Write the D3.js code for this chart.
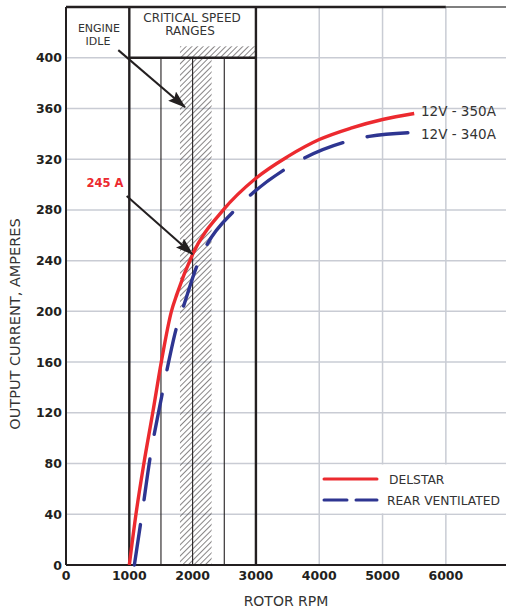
<!DOCTYPE html>
<html>
<head>
<meta charset="utf-8">
<script src="https://cdn.jsdelivr.net/npm/d3@7"></script>
<style>
  body { margin: 0; background: #fff; }
  svg { display: block; }
</style>
</head>
<body>
<div id="chart"></div>
<script>
'use strict';

// Delstar curve: [rpm, amps]
var delstarRpm = [1000, 1105, 1230, 1370, 1505, 1665, 1755, 2000, 2485, 3000, 3500, 4000, 4500, 5000, 5500];
var delstarAmps = [0, 40, 80, 120, 160, 200, 214, 245, 280, 305, 322, 335.5, 344.5, 351.3, 356];

// Rear ventilated curve: [rpm, amps]
var rearRpm = [1080, 1200, 1330, 1500, 1600, 1750, 1850, 2070, 2220, 2670, 2920, 3490, 3790, 4440, 4790, 5480];
var rearAmps = [0, 40, 85, 130, 155, 188, 203, 236, 252, 280, 292, 313, 321.5, 334, 338, 341];

var xTicks = [0, 1000, 2000, 3000, 4000, 5000, 6000];
var yTicks = [0, 40, 80, 120, 160, 200, 240, 280, 320, 360, 400];
var seriesNames = ['DELSTAR', 'REAR VENTILATED'];
var endLabels = ['12V - 350A', '12V - 340A'];

var width = 506,
  height = 611;

var svg = d3.select('#chart').append('svg')
  .attr('width', width)
  .attr('height', height);

var x = d3.scaleLinear().domain([0, 6950]).range([66, 506]);
var y = d3.scaleLinear().domain([0, 440]).range([565, 7]);

var red = '#ec2a2f',
  blue = '#2e3591',
  grid = '#c9ccd4',
  ink = '#231f20';

// Hatch pattern
var defs = svg.append('defs');
var pat = defs.append('pattern')
  .attr('id', 'hatch')
  .attr('patternUnits', 'userSpaceOnUse')
  .attr('width', 4)
  .attr('height', 4)
  .attr('patternTransform', 'rotate(45)');
pat.append('line')
  .attr('x1', 0).attr('y1', 0)
  .attr('x2', 0).attr('y2', 4)
  .style('stroke', ink)
  .style('stroke-width', 1.1);

defs.append('marker')
  .attr('id', 'arrow')
  .attr('markerUnits', 'userSpaceOnUse')
  .attr('viewBox', '0 0 18 12')
  .attr('refX', 17)
  .attr('refY', 6)
  .attr('markerWidth', 18)
  .attr('markerHeight', 12)
  .attr('orient', 'auto')
  .append('path')
  .attr('d', 'M0,0 L18,6 L0,12 L3,6 Z')
  .style('fill', ink);

// Gridlines
svg.append('g').selectAll('line').data(yTicks.slice(1))
  .enter().append('line')
  .attr('x1', x(0)).attr('x2', width)
  .attr('y1', function (d) { return y(d); })
  .attr('y2', function (d) { return y(d); })
  .style('stroke', grid)
  .style('stroke-width', 1.5);

svg.append('g').selectAll('line').data([4000, 5000, 6000])
  .enter().append('line')
  .attr('x1', function (d) { return x(d); })
  .attr('x2', function (d) { return x(d); })
  .attr('y1', y(440)).attr('y2', y(0))
  .style('stroke', grid)
  .style('stroke-width', 1.5);

// Hatched critical band
svg.append('rect')
  .attr('x', x(1800)).attr('y', y(400))
  .attr('width', x(2300) - x(1800))
  .attr('height', y(0) - y(400))
  .style('fill', 'url(#hatch)');
svg.append('rect')
  .attr('x', x(1800)).attr('y', y(409))
  .attr('width', x(3000) - x(1800))
  .attr('height', y(400) - y(409))
  .style('fill', 'url(#hatch)');

// Thin speed lines
svg.append('g').selectAll('line').data([1500, 2000, 2500])
  .enter().append('line')
  .attr('x1', function (d) { return x(d); })
  .attr('x2', function (d) { return x(d); })
  .attr('y1', y(400)).attr('y2', y(0))
  .style('stroke', ink)
  .style('stroke-width', 1.1);

// Thick frame lines
svg.append('g').selectAll('line').data([1000, 3000])
  .enter().append('line')
  .attr('x1', function (d) { return x(d); })
  .attr('x2', function (d) { return x(d); })
  .attr('y1', y(440)).attr('y2', y(0))
  .style('stroke', ink)
  .style('stroke-width', 2.4);

svg.append('line')
  .attr('x1', x(1000)).attr('x2', x(3000))
  .attr('y1', y(400)).attr('y2', y(400))
  .style('stroke', ink)
  .style('stroke-width', 2.4);

svg.append('line')
  .attr('x1', x(0)).attr('x2', x(6000))
  .attr('y1', y(440)).attr('y2', y(440))
  .style('stroke', ink)
  .style('stroke-width', 2.6);
svg.append('line')
  .attr('x1', x(6000)).attr('x2', width)
  .attr('y1', y(440)).attr('y2', y(440))
  .style('stroke', '#555')
  .style('stroke-width', 1.4);

// Axes lines
svg.append('line')
  .attr('x1', x(0)).attr('x2', x(0))
  .attr('y1', y(440)).attr('y2', y(0))
  .style('stroke', ink)
  .style('stroke-width', 2);
svg.append('line')
  .attr('x1', x(0)).attr('x2', width)
  .attr('y1', y(0)).attr('y2', y(0))
  .style('stroke', ink)
  .style('stroke-width', 2);

// Tick labels
svg.append('g').selectAll('text').data(yTicks)
  .enter().append('text')
  .attr('x', 62)
  .attr('y', function (d) { return y(d); })
  .attr('dy', '0.36em')
  .attr('text-anchor', 'end')
  .style('font-family', 'DejaVu Sans')
  .style('font-weight', 'bold')
  .style('font-size', '12.5px')
  .style('fill', ink)
  .text(String);

svg.append('g').selectAll('text').data(xTicks)
  .enter().append('text')
  .attr('x', function (d) { return x(d); })
  .attr('y', 580)
  .attr('text-anchor', 'middle')
  .style('font-family', 'DejaVu Sans')
  .style('font-weight', 'bold')
  .style('font-size', '12.5px')
  .style('fill', ink)
  .text(String);

// Axis titles
svg.append('text')
  .attr('x', 286).attr('y', 606)
  .attr('text-anchor', 'middle')
  .style('font-family', 'DejaVu Sans')
  .style('font-size', '14px')
  .style('fill', '#333')
  .text('ROTOR RPM');

svg.append('text')
  .attr('transform', 'translate(20,324) rotate(-90)')
  .attr('text-anchor', 'middle')
  .style('font-family', 'DejaVu Sans')
  .style('font-size', '14.5px')
  .style('fill', '#333')
  .text('OUTPUT CURRENT, AMPERES');

// Header labels
var header = svg.append('g')
  .style('font-family', 'DejaVu Sans')
  .style('fill', '#333')
  .attr('text-anchor', 'middle');
header.append('text').attr('x', 99).attr('y', 32).style('font-size', '11px').text('ENGINE');
header.append('text').attr('x', 98).attr('y', 44.5).style('font-size', '11px').text('IDLE');
header.append('text').attr('x', 192).attr('y', 22).style('font-size', '12px').text('CRITICAL SPEED');
header.append('text').attr('x', 190).attr('y', 35).style('font-size', '12px').text('RANGES');

// Curves
var line = d3.line()
  .x(function (d) { return x(d[0]); })
  .y(function (d) { return y(d[1]); })
  .curve(d3.curveMonotoneX);

var delstar = d3.zip(delstarRpm, delstarAmps);
var rear = d3.zip(rearRpm, rearAmps);

svg.append('path')
  .datum(delstar)
  .attr('d', line)
  .style('fill', 'none')
  .style('stroke', red)
  .style('stroke-width', 3.4);

svg.append('path')
  .datum(rear)
  .attr('d', line)
  .style('fill', 'none')
  .style('stroke', blue)
  .style('stroke-width', 3.4)
  .style('stroke-linecap', 'round')
  .style('stroke-dasharray', '41,25');

// Annotation arrows
var arrows = [
  {from: [826, 406], to: [1880, 361]},
  {from: [959, 291], to: [2000, 245]}
];

svg.append('g').selectAll('line').data(arrows)
  .enter().append('line')
  .attr('x1', function (d) { return x(d.from[0]); })
  .attr('y1', function (d) { return y(d.from[1]); })
  .attr('x2', function (d) { return x(d.to[0]); })
  .attr('y2', function (d) { return y(d.to[1]); })
  .style('stroke', ink)
  .style('stroke-width', 2)
  .attr('marker-end', 'url(#arrow)');

svg.append('text')
  .attr('x', 105).attr('y', 187)
  .attr('text-anchor', 'middle')
  .style('font-family', 'DejaVu Sans')
  .style('font-weight', 'bold')
  .style('font-size', '11.5px')
  .style('fill', red)
  .text('245 A');

// End labels
svg.append('g').selectAll('text').data(endLabels)
  .enter().append('text')
  .attr('x', 421)
  .attr('y', function (d, i) { return i === 0 ? 116 : 139; })
  .style('font-family', 'DejaVu Sans')
  .style('font-size', '13.5px')
  .style('fill', '#333')
  .text(String);

// Legend
var legend = svg.append('g');
legend.append('rect')
  .attr('x', x(4000) + 1).attr('y', y(80) + 1)
  .attr('width', width - x(4000) - 1)
  .attr('height', y(40) - y(80) - 2)
  .style('fill', '#fff');

legend.selectAll('line').data(seriesNames)
  .enter().append('line')
  .attr('x1', 324).attr('x2', 377)
  .attr('y1', function (d, i) { return 479 + i * 21; })
  .attr('y2', function (d, i) { return 479 + i * 21; })
  .style('stroke', function (d, i) { return i === 0 ? red : blue; })
  .style('stroke-width', 3)
  .style('stroke-linecap', 'round')
  .style('stroke-dasharray', function (d, i) { return i === 0 ? null : '23,9'; });

legend.selectAll('text').data(seriesNames)
  .enter().append('text')
  .attr('x', function (d, i) { return i === 0 ? 389 : 387; })
  .attr('y', function (d, i) { return 484 + i * 21; })
  .style('font-family', 'DejaVu Sans')
  .style('font-size', '12.3px')
  .style('fill', '#333')
  .text(String);
</script>
</body>
</html>
